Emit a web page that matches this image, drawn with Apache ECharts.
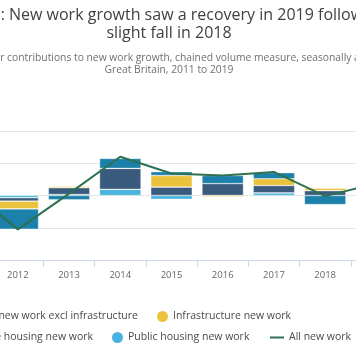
<!DOCTYPE html>
<html><head><meta charset="utf-8">
<script src="https://cdn.jsdelivr.net/npm/echarts@6/dist/echarts.min.js"></script>
<style>
html,body{margin:0;padding:0;background:#fff;overflow:hidden;width:356px;height:364px;position:relative}
#chart{position:absolute;left:-111px;top:0;width:560px;height:364px}
</style>
</head><body><div id="chart"></div>
<script>
// ---- data ----
const years = ['2011','2012','2013','2014','2015','2016','2017','2018','2019'];
const otherExclInfra = [1.8, -6.3, -1.3, 3.1, 1.2, 2.5, 1.9, -2.8, 1.0];
const infrastructure = [1.0, -2.4, 0.4, 0.0, 3.6, -0.4, 2.1, 0.8, 1.4];
const privateHousing = [1.2, -1.05, 2.1, 6.5, 2.6, 3.7, 2.3, 1.5, 1.0];
const publicHousing  = [-1.5, -0.7, 0.3, 1.9, -1.2, 0.0, 0.8, 0.0, 0.3];
const allNewWork     = [2.5, -10.5, 0.6, 12.0, 6.8, 6.2, 7.3, -0.2, 3.7];
const yTicks = {min: -20, max: 20, interval: 10};

const names = {
  other: 'Other new work excl infrastructure',
  infra: 'Infrastructure new work',
  priv: 'Private housing new work',
  pub: 'Public housing new work',
  all: 'All new work'
};
const colors = {other:'#1b80aa', infra:'#eac23c', priv:'#3a5b7e', pub:'#48b3de', all:'#2e7050'};
const FONT = "'Open Sans', sans-serif";

const chart = echarts.init(document.getElementById('chart'), null, {renderer:'canvas'});
const legendText = {fontSize: 10.5, color: '#4a4a4a', fontFamily: FONT, lineHeight: 14};
function lg(name, pos, top, extra) {
  return Object.assign({
    data: [name], top: top, padding: 0, itemGap: 0, selectedMode: false,
    icon: 'circle', itemWidth: 11, itemHeight: 11, textStyle: legendText,
    itemStyle: {borderWidth: 0}
  }, pos, extra || {});
}
const titleStyle = {fontSize: 16, fontWeight: 'normal', color: '#3f3f3f', fontFamily: FONT, lineHeight: 18};
const subStyle = {fontSize: 10.3, fontWeight: 'normal', color: '#6f6f6f', fontFamily: FONT, lineHeight: 13};
const barBorder = {borderColor: 'rgba(255,255,255,0.6)', borderWidth: 0.6};

chart.setOption({
  animation: false,
  backgroundColor: '#fff',
  title: [
    {text: 'Figure 6: New work growth saw a recovery in 2019 following a', left: 52, top: 6.5, padding: 0, textStyle: titleStyle},
    {text: 'slight fall in 2018', left: 'center', top: 24.5, padding: 0, textStyle: titleStyle},
    {text: 'Sector contributions to new work growth, chained volume measure, seasonally adjusted,', left: 85, top: 52, padding: 0, textStyle: subStyle},
    {text: 'Great Britain, 2011 to 2019', left: 'center', top: 64, padding: 0, textStyle: subStyle}
  ],
  legend: [
    lg(names.other, {right: 311}, 309.5),
    lg(names.infra, {left: 268}, 309.5),
    lg(names.priv, {right: 356}, 330.5),
    lg(names.pub, {left: 223}, 330.5),
    lg(names.all, {left: 381}, 330.5, {icon: 'rect', itemWidth: 14, itemHeight: 2})
  ],
  grid: {left: 52, right: 47, top: 131, bottom: 104, containLabel: false, outerBoundsMode: 'none'},
  xAxis: {
    type: 'category', data: years,
    axisLine: {onZero: false, lineStyle: {color: '#ccd6eb', width: 1}},
    axisTick: {show: true, length: 7, lineStyle: {color: '#ccd6eb'}},
    axisLabel: {fontSize: 9.5, color: '#666', margin: 10, fontFamily: FONT},
    splitLine: {show: false}
  },
  yAxis: {
    type: 'value', min: yTicks.min, max: yTicks.max, interval: yTicks.interval,
    axisLine: {show: false}, axisTick: {show: false},
    axisLabel: {fontSize: 9.5, color: '#666', fontFamily: FONT},
    splitLine: {lineStyle: {color: '#e6e6e6', width: 1}}
  },
  series: [
    {name: names.pub, type: 'bar', stack: 'total', data: publicHousing, barCategoryGap: '19%', itemStyle: Object.assign({color: colors.pub}, barBorder)},
    {name: names.priv, type: 'bar', stack: 'total', data: privateHousing, itemStyle: Object.assign({color: colors.priv}, barBorder)},
    {name: names.infra, type: 'bar', stack: 'total', data: infrastructure, itemStyle: Object.assign({color: colors.infra}, barBorder)},
    {name: names.other, type: 'bar', stack: 'total', data: otherExclInfra, itemStyle: Object.assign({color: colors.other}, barBorder)},
    {name: names.all, type: 'line', data: allNewWork, symbol: 'none', z: 10,
     lineStyle: {color: colors.all, width: 2}, itemStyle: {color: colors.all}}
  ]
});
</script>
</body></html>
